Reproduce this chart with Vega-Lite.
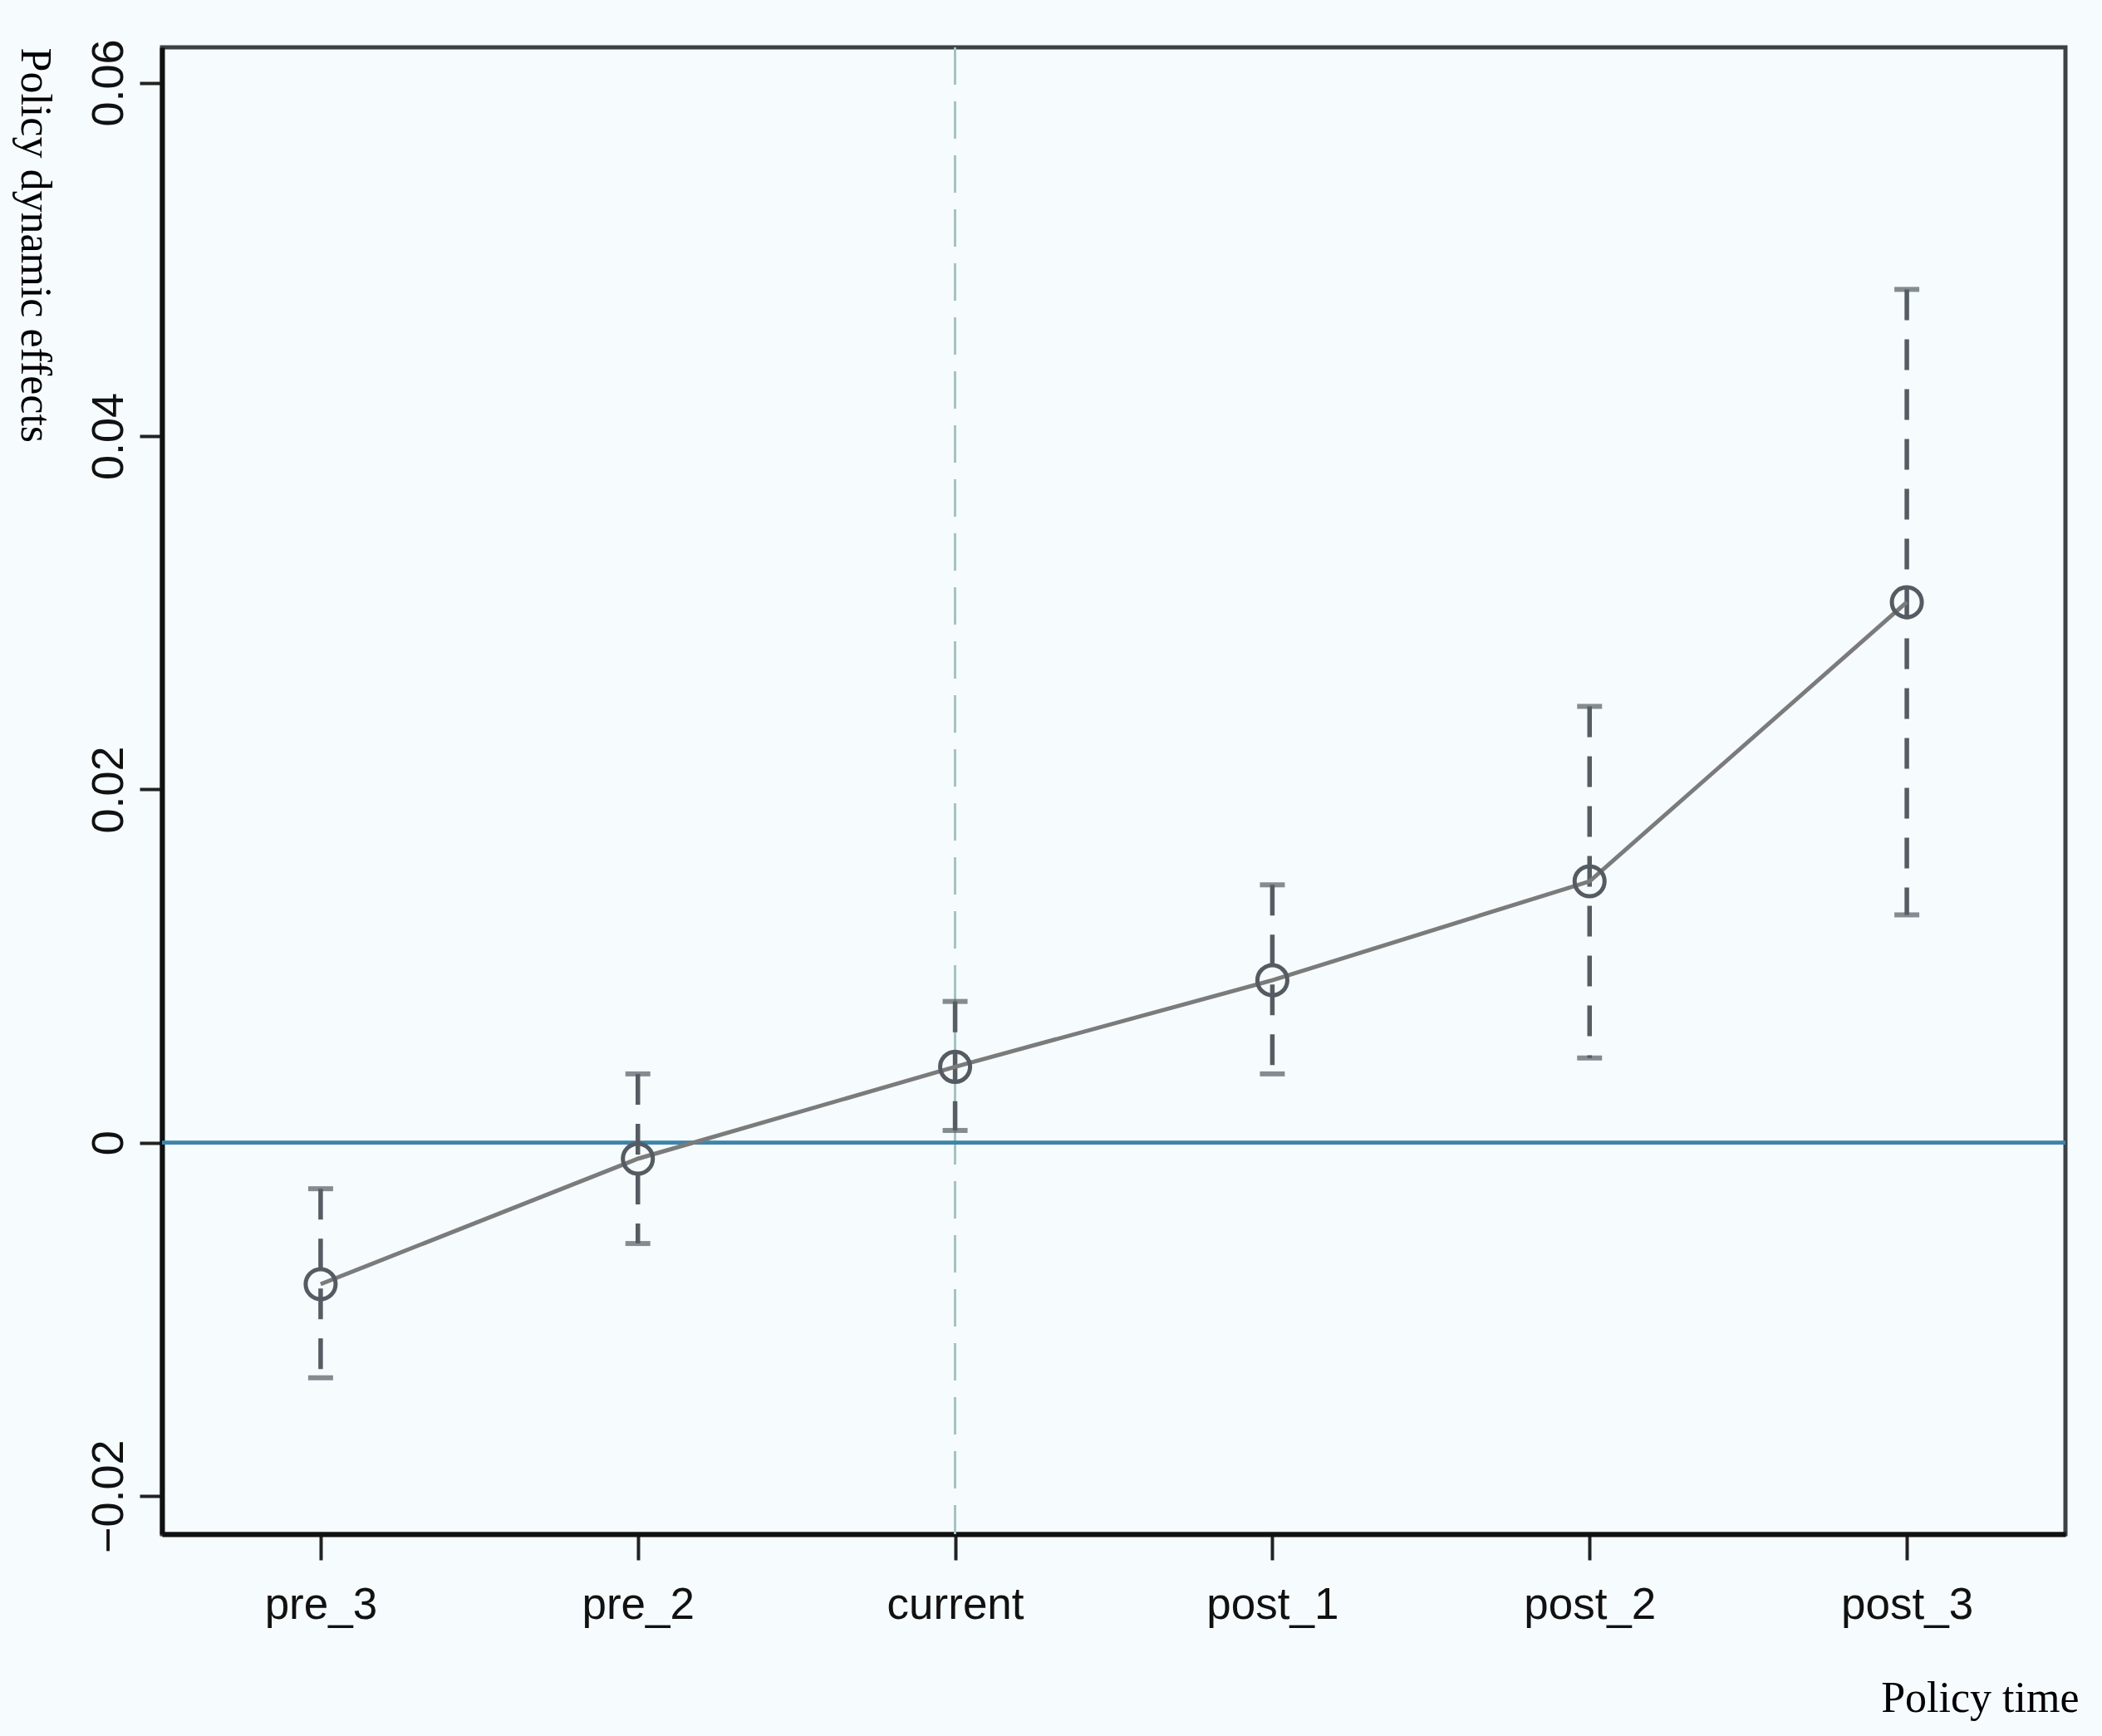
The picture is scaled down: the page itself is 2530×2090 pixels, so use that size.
{
  "$schema": "https://vega.github.io/schema/vega-lite/v6.json",
  "width": 2291,
  "height": 1790,
  "autosize": {"type": "none"},
  "padding": {"left": 195, "top": 57, "right": 44, "bottom": 243},
  "background": "#f6fbfd",
  "config": {
    "view": {"stroke": "#3c4146", "strokeWidth": 5, "fill": "#f6fbfd"},
    "axis": {"grid": false}
  },
  "data": {
    "values": [
      {"period": "pre_3", "est": -0.0080, "lo": -0.0133, "hi": -0.0026},
      {"period": "pre_2", "est": -0.0009, "lo": -0.0057, "hi": 0.0039},
      {"period": "current", "est": 0.0043, "lo": 0.0007, "hi": 0.0080},
      {"period": "post_1", "est": 0.0092, "lo": 0.0039, "hi": 0.0146},
      {"period": "post_2", "est": 0.0148, "lo": 0.0048, "hi": 0.0247},
      {"period": "post_3", "est": 0.0306, "lo": 0.0129, "hi": 0.0483}
    ]
  },
  "layer": [
    {
      "mark": {"type": "rule", "color": "#a5c2c2", "strokeWidth": 2.5, "strokeDash": [45, 20]},
      "encoding": {
        "x": {"datum": "current", "type": "ordinal", "sort": ["pre_3", "pre_2", "current", "post_1", "post_2", "post_3"], "scale": {"type": "point", "padding": 0.5}}
      }
    },
    {
      "mark": {"type": "rule", "color": "#3d85aa", "strokeWidth": 4},
      "encoding": {
        "y": {"datum": 0, "type": "quantitative"}
      }
    },
    {
      "mark": {"type": "rule", "color": "#565c63", "strokeWidth": 5.5, "strokeDash": [37, 23]},
      "encoding": {
        "x": {
          "field": "period", "type": "ordinal",
          "sort": ["pre_3", "pre_2", "current", "post_1", "post_2", "post_3"],
          "scale": {"type": "point", "padding": 0.5},
          "axis": {
            "title": "Policy time",
            "titleFont": "Liberation Serif", "titleFontSize": 52, "titleFontWeight": "normal", "titleColor": "#000000",
            "titleAlign": "right", "titleBaseline": "alphabetic", "titleX": 2307, "titleY": 213,
            "labelFont": "Liberation Sans", "labelFontSize": 53, "labelColor": "#111111", "labelAngle": 0,
            "labelAlign": "center",
            "labelPadding": 28, "labelBaseline": "top",
            "tickSize": 31, "tickWidth": 4, "tickColor": "#222222",
            "domainColor": "#111111", "domainWidth": 6
          }
        },
        "y": {
          "field": "hi", "type": "quantitative",
          "scale": {"domain": [-0.02215, 0.062], "zero": false, "nice": false},
          "axis": {
            "title": "Policy dynamic effects",
            "titleFont": "Liberation Serif", "titleFontSize": 52, "titleFontWeight": "normal", "titleColor": "#000000",
            "titleAngle": 90, "titleAlign": "left", "titleBaseline": "alphabetic", "titleX": -170, "titleY": 0,
            "values": [-0.02, 0, 0.02, 0.04, 0.06], "format": ".2~f",
            "labelFont": "Liberation Sans", "labelFontSize": 54, "labelColor": "#111111",
            "labelAngle": 270, "labelAlign": "center", "labelBaseline": "alphabetic", "labelPadding": 21,
            "labelOverlap": false, "labelFlush": false,
            "tickSize": 27, "tickWidth": 4, "tickColor": "#222222",
            "domainColor": "#111111", "domainWidth": 6
          }
        },
        "y2": {"field": "lo"}
      }
    },
    {
      "mark": {"type": "tick", "color": "#565c63", "size": 30, "thickness": 6, "orient": "horizontal"},
      "encoding": {
        "x": {"field": "period", "type": "ordinal", "sort": ["pre_3", "pre_2", "current", "post_1", "post_2", "post_3"]},
        "y": {"field": "hi", "type": "quantitative"}
      }
    },
    {
      "mark": {"type": "tick", "color": "#565c63", "size": 30, "thickness": 6, "orient": "horizontal"},
      "encoding": {
        "x": {"field": "period", "type": "ordinal", "sort": ["pre_3", "pre_2", "current", "post_1", "post_2", "post_3"]},
        "y": {"field": "lo", "type": "quantitative"}
      }
    },
    {
      "mark": {"type": "line", "color": "#7b7b7b", "strokeWidth": 5},
      "encoding": {
        "x": {"field": "period", "type": "ordinal", "sort": ["pre_3", "pre_2", "current", "post_1", "post_2", "post_3"]},
        "y": {"field": "est", "type": "quantitative"}
      }
    },
    {
      "mark": {"type": "point", "shape": "circle", "filled": false, "size": 1300, "stroke": "#555b62", "strokeWidth": 5, "opacity": 1},
      "encoding": {
        "x": {"field": "period", "type": "ordinal", "sort": ["pre_3", "pre_2", "current", "post_1", "post_2", "post_3"]},
        "y": {"field": "est", "type": "quantitative"}
      }
    }
  ]
}
